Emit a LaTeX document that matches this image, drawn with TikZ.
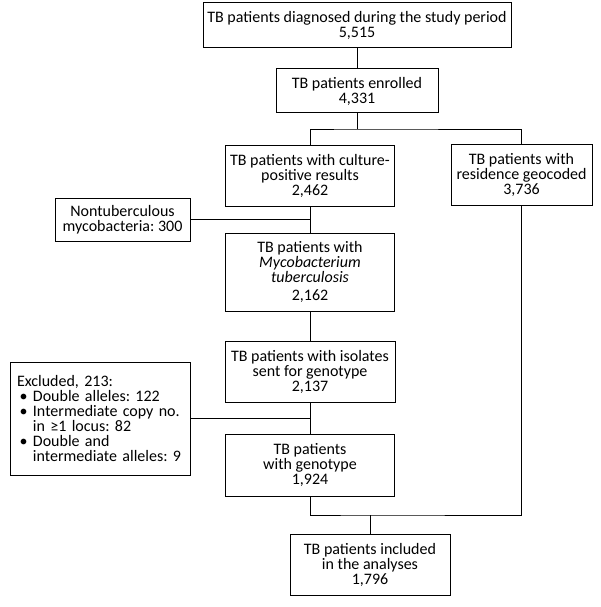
\documentclass[tikz,border=0pt]{standalone}
\usepackage{fontspec}
\setmainfont{Carlito}
\usetikzlibrary{positioning}
\frenchspacing

\begin{document}
\begin{tikzpicture}[x=1pt,y=-1pt,
		stage/.style={draw, line width=1pt, align=center, inner sep=2pt,
			font=\fontsize{16}{15}\selectfont},
		link/.style={line width=1pt}]

		\useasboundingbox (0,0) rectangle (600,607);

		% Main column of the flow.
		\node[stage, minimum width=308, minimum height=45] (diagnosed) at (357,25.5)
			{TB patients diagnosed during the study period\\5,515};
		\node[stage, minimum width=162, minimum height=44] (enrolled) at (357,91)
			{TB patients enrolled\\4,331};
		\node[stage, minimum width=169, minimum height=61] (culture) at (310,175.5)
			{TB patients with culture-\\positive results\\2,462};
		\node[stage, minimum width=169, minimum height=78] (mtb) at (310,272)
			{TB patients with\\\textit{Mycobacterium}\\\textit{tuberculosis}\\[3pt]2,162};
		\node[stage, minimum width=170, minimum height=61] (sent) at (310,371.5)
			{TB patients with isolates\\sent for genotype\\2,137};
		\node[stage, minimum width=169, minimum height=62] (genotype) at (310,465)
			{TB patients\\with genotype\\1,924};
		\node[stage, minimum width=160, minimum height=61] (included) at (370,564.5)
			{TB patients included\\in the analyses\\1,796};

		% Right branch.
		\node[stage, minimum width=141, minimum height=61] (geocoded) at (521.5,174.5)
			{TB patients with\\residence geocoded\\3,736};

		% Exclusions on the left.
		\node[stage, minimum width=135, minimum height=43] (ntm) at (122.5,219.5)
			{Nontuberculous\\mycobacteria: 300};
		\node[stage, align=left, text width=166, inner sep=7pt, minimum height=113] (excluded) at (100,418.5)
			{Excluded, 213:\\
			\,\textbullet\ Double alleles: 122\\
			\,\textbullet\ Intermediate copy no.\\
			\hphantom{\,\textbullet\ }in ≥1 locus: 82\\
			\,\textbullet\ Double and\\
			\hphantom{\,\textbullet\ }intermediate alleles: 9};

		% Junctions.
		\coordinate (fork) at (357,129);
		\coordinate (merge) at (370,515);

		% Connectors.
		\draw[link] (enrolled.north) -- (enrolled.north |- diagnosed.south);
		\draw[link] (enrolled.south) -- (fork);
		\draw[link] (culture.north) |- (fork) -| (geocoded.north);
		\draw[link] (culture.south) -- (mtb.north);
		\draw[link] (ntm.east) -- (ntm.east -| culture.south);
		\draw[link] (mtb.south) -- (sent.north);
		\draw[link] (sent.south) -- (genotype.north);
		\draw[link] (excluded.east) -- (excluded.east -| sent.south);
		\draw[link] (genotype.south) |- (merge) -| (geocoded.south);
		\draw[link] (merge) -- (included.north);

	\end{tikzpicture}
\end{document}
